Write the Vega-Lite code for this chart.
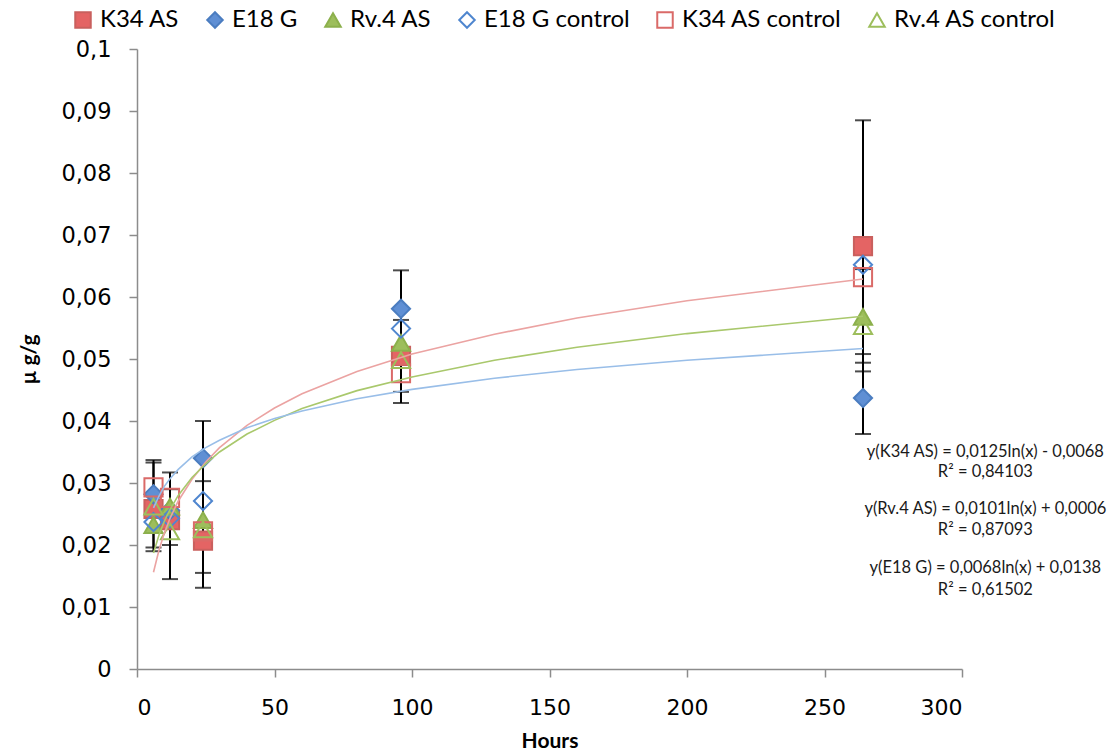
{
  "$schema": "https://vega.github.io/schema/vega-lite/v6.json",
  "width": 825,
  "height": 620,
  "autosize": {"type": "none"},
  "padding": {"left": 137, "top": 49, "right": 155, "bottom": 87},
  "background": "white",
  "config": {
    "view": {"stroke": null},
    "axis": {"grid": false, "domainColor": "#8c8c8c", "tickColor": "#8c8c8c", "domainWidth": 1.5, "tickWidth": 1.5, "labelColor": "#000", "titleColor": "#000"},
    "legend": {"labelFont": "Lato", "labelFontSize": 24, "labelColor": "#000", "labelLimit": 400, "symbolSize": 240, "symbolStrokeWidth": 2, "columnPadding": 23, "labelOffset": 5}
  },
  "datasets": {
    "points": [
      {"series": "K34 AS", "x": 6, "y": 0.0258}, {"series": "K34 AS", "x": 12, "y": 0.0240}, {"series": "K34 AS", "x": 24, "y": 0.0207}, {"series": "K34 AS", "x": 96, "y": 0.0505}, {"series": "K34 AS", "x": 264, "y": 0.0682},
      {"series": "E18 G", "x": 6, "y": 0.0282}, {"series": "E18 G", "x": 12, "y": 0.0256}, {"series": "E18 G", "x": 24, "y": 0.0340}, {"series": "E18 G", "x": 96, "y": 0.0581}, {"series": "E18 G", "x": 264, "y": 0.0437},
      {"series": "Rv.4 AS", "x": 6, "y": 0.0232}, {"series": "Rv.4 AS", "x": 12, "y": 0.0262}, {"series": "Rv.4 AS", "x": 24, "y": 0.0240}, {"series": "Rv.4 AS", "x": 96, "y": 0.0526}, {"series": "Rv.4 AS", "x": 264, "y": 0.0568},
      {"series": "E18 G control", "x": 6, "y": 0.0237}, {"series": "E18 G control", "x": 12, "y": 0.0243}, {"series": "E18 G control", "x": 24, "y": 0.0271}, {"series": "E18 G control", "x": 96, "y": 0.0549}, {"series": "E18 G control", "x": 264, "y": 0.0652},
      {"series": "K34 AS control", "x": 6, "y": 0.0293}, {"series": "K34 AS control", "x": 12, "y": 0.0276}, {"series": "K34 AS control", "x": 24, "y": 0.0222}, {"series": "K34 AS control", "x": 96, "y": 0.0477}, {"series": "K34 AS control", "x": 264, "y": 0.0632},
      {"series": "Rv.4 AS control", "x": 6, "y": 0.0262}, {"series": "Rv.4 AS control", "x": 12, "y": 0.0222}, {"series": "Rv.4 AS control", "x": 24, "y": 0.0225}, {"series": "Rv.4 AS control", "x": 96, "y": 0.0498}, {"series": "Rv.4 AS control", "x": 264, "y": 0.0553}
    ],
    "err": [
      {"x": 6, "lo": 0.0190, "hi": 0.0337},
      {"x": 6, "lo": 0.0196, "hi": 0.0333},
      {"x": 12, "lo": 0.0145, "hi": 0.0317},
      {"x": 12, "lo": 0.0200, "hi": 0.0290},
      {"x": 24, "lo": 0.0131, "hi": 0.0400},
      {"x": 24, "lo": 0.0155, "hi": 0.0303},
      {"x": 96, "lo": 0.0429, "hi": 0.0643},
      {"x": 96, "lo": 0.0447, "hi": 0.0563},
      {"x": 264, "lo": 0.0480, "hi": 0.0885},
      {"x": 264, "lo": 0.0379, "hi": 0.0494},
      {"x": 264, "lo": 0.0508, "hi": 0.0645}
    ],
    "trend": [
      {"series": "K34 AS", "x": 6, "y": 0.0156}, {"series": "K34 AS", "x": 8, "y": 0.0192}, {"series": "K34 AS", "x": 10, "y": 0.0220}, {"series": "K34 AS", "x": 12, "y": 0.0243}, {"series": "K34 AS", "x": 15, "y": 0.0271}, {"series": "K34 AS", "x": 20, "y": 0.0306}, {"series": "K34 AS", "x": 25, "y": 0.0334}, {"series": "K34 AS", "x": 30, "y": 0.0357}, {"series": "K34 AS", "x": 40, "y": 0.0393}, {"series": "K34 AS", "x": 50, "y": 0.0421}, {"series": "K34 AS", "x": 60, "y": 0.0444}, {"series": "K34 AS", "x": 80, "y": 0.0480}, {"series": "K34 AS", "x": 100, "y": 0.0508}, {"series": "K34 AS", "x": 130, "y": 0.0540}, {"series": "K34 AS", "x": 160, "y": 0.0566}, {"series": "K34 AS", "x": 200, "y": 0.0594}, {"series": "K34 AS", "x": 264, "y": 0.0629},
      {"series": "Rv.4 AS", "x": 6, "y": 0.0187}, {"series": "Rv.4 AS", "x": 8, "y": 0.0216}, {"series": "Rv.4 AS", "x": 10, "y": 0.0239}, {"series": "Rv.4 AS", "x": 12, "y": 0.0257}, {"series": "Rv.4 AS", "x": 15, "y": 0.0280}, {"series": "Rv.4 AS", "x": 20, "y": 0.0309}, {"series": "Rv.4 AS", "x": 25, "y": 0.0331}, {"series": "Rv.4 AS", "x": 30, "y": 0.0350}, {"series": "Rv.4 AS", "x": 40, "y": 0.0379}, {"series": "Rv.4 AS", "x": 50, "y": 0.0401}, {"series": "Rv.4 AS", "x": 60, "y": 0.0420}, {"series": "Rv.4 AS", "x": 80, "y": 0.0449}, {"series": "Rv.4 AS", "x": 100, "y": 0.0471}, {"series": "Rv.4 AS", "x": 130, "y": 0.0498}, {"series": "Rv.4 AS", "x": 160, "y": 0.0519}, {"series": "Rv.4 AS", "x": 200, "y": 0.0541}, {"series": "Rv.4 AS", "x": 264, "y": 0.0569},
      {"series": "E18 G", "x": 6, "y": 0.0260}, {"series": "E18 G", "x": 8, "y": 0.0279}, {"series": "E18 G", "x": 10, "y": 0.0295}, {"series": "E18 G", "x": 12, "y": 0.0307}, {"series": "E18 G", "x": 15, "y": 0.0322}, {"series": "E18 G", "x": 20, "y": 0.0342}, {"series": "E18 G", "x": 25, "y": 0.0357}, {"series": "E18 G", "x": 30, "y": 0.0369}, {"series": "E18 G", "x": 40, "y": 0.0389}, {"series": "E18 G", "x": 50, "y": 0.0404}, {"series": "E18 G", "x": 60, "y": 0.0416}, {"series": "E18 G", "x": 80, "y": 0.0436}, {"series": "E18 G", "x": 100, "y": 0.0451}, {"series": "E18 G", "x": 130, "y": 0.0469}, {"series": "E18 G", "x": 160, "y": 0.0483}, {"series": "E18 G", "x": 200, "y": 0.0498}, {"series": "E18 G", "x": 264, "y": 0.0517}
    ],
    "notes": [
      {"x": 308.5, "y": 0.0350, "label": "y(K34 AS) = 0,0125ln(x) - 0,0068"},
      {"x": 308.5, "y": 0.0317, "label": "R² = 0,84103"},
      {"x": 308.5, "y": 0.0258, "label": "y(Rv.4 AS) = 0,0101ln(x) + 0,0006"},
      {"x": 308.5, "y": 0.0225, "label": "R² = 0,87093"},
      {"x": 308.5, "y": 0.0163, "label": "y(E18 G) = 0,0068ln(x) + 0,0138"},
      {"x": 308.5, "y": 0.0127, "label": "R² = 0,61502"}
    ]
  },
  "layer": [
    {
      "data": {"name": "err"},
      "mark": {"type": "rule", "color": "#000", "strokeWidth": 2},
      "encoding": {
        "x": {"field": "x", "type": "quantitative", "title": "Hours",
              "scale": {"domain": [0, 300], "nice": false, "zero": false},
              "axis": {"values": [0, 50, 100, 150, 200, 250, 300], "format": "d", "labelFont": "DejaVu Sans", "labelFontSize": 22, "tickSize": 8, "labelPadding": 20, "titleFont": "Lato", "titleFontWeight": "bold", "titleFontSize": 21, "titlePadding": 12}},
        "y": {"field": "lo", "type": "quantitative", "title": "µ g/g",
              "scale": {"domain": [0, 0.1], "nice": false, "zero": true},
              "axis": {"values": [0, 0.01, 0.02, 0.03, 0.04, 0.05, 0.06, 0.07, 0.08, 0.09, 0.1], "labelExpr": "replace(format(datum.value, '~g'), '.', ',')", "labelFont": "DejaVu Sans", "labelFontSize": 22.5, "tickSize": 8, "labelPadding": 18, "titleFont": "Lato", "titleFontWeight": "bold", "titleFontSize": 21, "titlePadding": 21}},
        "y2": {"field": "hi"}
      }
    },
    {
      "data": {"name": "err"},
      "mark": {"type": "tick", "color": "#000", "thickness": 2, "size": 16, "orient": "horizontal"},
      "encoding": {
        "x": {"field": "x", "type": "quantitative", "title": "Hours"},
        "y": {"field": "lo", "type": "quantitative", "title": "µ g/g"}
      }
    },
    {
      "data": {"name": "err"},
      "mark": {"type": "tick", "color": "#000", "thickness": 2, "size": 16, "orient": "horizontal"},
      "encoding": {
        "x": {"field": "x", "type": "quantitative", "title": "Hours"},
        "y": {"field": "hi", "type": "quantitative", "title": "µ g/g"}
      }
    },
    {
      "data": {"name": "points"},
      "mark": {"type": "point", "filled": false, "size": 330, "strokeWidth": 2, "opacity": 1},
      "encoding": {
        "x": {"field": "x", "type": "quantitative", "title": "Hours"},
        "y": {"field": "y", "type": "quantitative", "title": "µ g/g"},
        "shape": {"field": "series", "type": "nominal",
                  "scale": {"domain": ["K34 AS", "E18 G", "Rv.4 AS", "E18 G control", "K34 AS control", "Rv.4 AS control"], "range": ["square", "diamond", "triangle-up", "diamond", "square", "triangle-up"]},
                  "legend": {"title": null, "orient": "none", "direction": "horizontal", "legendX": -66, "legendY": -41}},
        "fill": {"field": "series", "type": "nominal",
                 "scale": {"domain": ["K34 AS", "E18 G", "Rv.4 AS", "E18 G control", "K34 AS control", "Rv.4 AS control"], "range": ["#E46464", "#5F8FD4", "#9DBE5C", "transparent", "transparent", "transparent"]},
                 "legend": {"title": null, "orient": "none", "direction": "horizontal", "legendX": -66, "legendY": -41}},
        "stroke": {"field": "series", "type": "nominal",
                   "scale": {"domain": ["K34 AS", "E18 G", "Rv.4 AS", "E18 G control", "K34 AS control", "Rv.4 AS control"], "range": ["#C9605E", "#4B7DC0", "#8CB04C", "#4F86CF", "#DA6A68", "#9DBE5C"]},
                   "legend": {"title": null, "orient": "none", "direction": "horizontal", "legendX": -66, "legendY": -41}}
      }
    },
    {
      "data": {"name": "trend"},
      "transform": [{"filter": "datum.series === 'K34 AS'"}],
      "mark": {"type": "line", "color": "#EBA3A2", "strokeWidth": 1.6},
      "encoding": {
        "x": {"field": "x", "type": "quantitative", "title": "Hours"},
        "y": {"field": "y", "type": "quantitative", "title": "µ g/g"}
      }
    },
    {
      "data": {"name": "trend"},
      "transform": [{"filter": "datum.series === 'Rv.4 AS'"}],
      "mark": {"type": "line", "color": "#A9C86C", "strokeWidth": 1.6},
      "encoding": {
        "x": {"field": "x", "type": "quantitative", "title": "Hours"},
        "y": {"field": "y", "type": "quantitative", "title": "µ g/g"}
      }
    },
    {
      "data": {"name": "trend"},
      "transform": [{"filter": "datum.series === 'E18 G'"}],
      "mark": {"type": "line", "color": "#99BEE8", "strokeWidth": 1.6},
      "encoding": {
        "x": {"field": "x", "type": "quantitative", "title": "Hours"},
        "y": {"field": "y", "type": "quantitative", "title": "µ g/g"}
      }
    },
    {
      "data": {"name": "notes"},
      "mark": {"type": "text", "align": "center", "baseline": "middle", "font": "Lato", "fontSize": 16.5, "color": "#1a1a1a"},
      "encoding": {
        "x": {"field": "x", "type": "quantitative", "title": "Hours"},
        "y": {"field": "y", "type": "quantitative", "title": "µ g/g"},
        "text": {"field": "label", "type": "nominal"}
      }
    }
  ]
}
